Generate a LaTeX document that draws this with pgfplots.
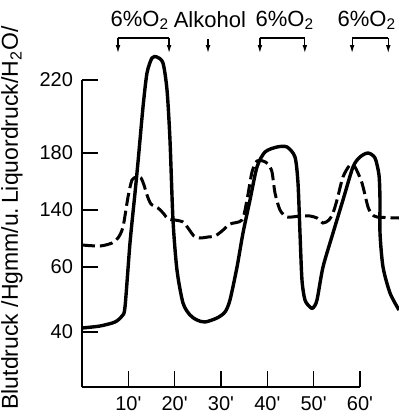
\documentclass[border=0pt]{standalone}
\usepackage{pgfplots}
\pgfplotsset{compat=1.18}
\usetikzlibrary{arrows.meta}
\usepackage{fontspec}
\setmainfont{Liberation Sans}
\begin{document}
\begin{tikzpicture}[arr/.style={line width=0.6pt,-{Latex[length=4pt,width=2.4pt]}}]
\useasboundingbox (-41pt,-16.5pt) rectangle (158.5pt,193.5pt);
\begin{axis}[
  scale only axis, width=139pt, height=153.5pt,
  xmin=0, xmax=60, ymin=0, ymax=307,
  axis x line=bottom, axis y line=left, axis line style={-, line width=0.8pt},
  clip=false,
  xtick={10,20,30,40,50,60},
  xticklabels={10\textquotesingle,20\textquotesingle,30\textquotesingle,40\textquotesingle,50\textquotesingle,60\textquotesingle},
  ytick={55,120,177,234,307},
  yticklabels={40,60,140,180,220},
  tick align=inside, major tick length=8pt,
  tick style={line width=0.7pt, black},
  tick label style={font=\fontsize{10}{12}\selectfont},
  xticklabel style={yshift=-1pt},
  yticklabel style={xshift=-1pt},
]
\addplot[black, line width=1.7pt, smooth, tension=0.45] coordinates {
(0,59) (3.89,61) (7.12,65) (8.63,71) (9.28,80) (10.36,144) (11.44,194) (12.09,225)
(13.17,280) (14.03,314) (15.11,329) (16.19,330) (17.48,324) (18.35,297) (18.99,247)
(19.64,167) (20.50,117) (21.80,84) (23.31,72) (24.82,67) (26.55,65) (29.14,69)
(30.87,75) (31.94,87) (33.46,120) (34.75,154) (36.26,187) (37.77,220) (39.50,235)
(42.09,240) (44.25,240) (45.97,230) (46.62,204) (47.05,154) (47.48,107) (48.13,87)
(49.21,80) (49.86,79) (50.72,87) (52.02,120) (54.18,154) (56.33,187) (58.49,220)
(60.00,230) (61.73,234) (63.24,229) (64.10,212) (64.32,187) (64.32,154) (64.97,120)
(66.48,94) (68.42,77)
};
\addplot[black, line width=1.5pt, smooth, tension=0.45, dash pattern=on 6.5pt off 2.5pt] coordinates {
(0,142) (3.89,141) (6.48,144) (7.77,149) (8.85,160) (9.93,190) (10.79,207) (11.87,210)
(12.73,209) (13.38,202) (14.03,192) (14.89,183) (16.40,179) (17.70,173) (18.56,168)
(20.07,167) (21.80,165) (22.88,159) (24.17,151) (25.47,149) (27.20,150) (28.71,151)
(30.22,156) (31.94,163) (34.53,167) (35.61,187) (36.69,215) (37.77,226) (39.07,226)
(40.15,223) (41.01,215) (41.66,194) (42.74,177) (44.25,170) (47.05,171) (49.21,171)
(50.72,169) (52.02,164) (53.31,167) (54.18,174) (55.04,187) (56.33,210) (57.84,222)
(58.92,220) (60.43,204) (61.73,180) (62.59,173) (63.67,170) (68.42,169)
};
% annotations
\node[font=\fontsize{11}{13}\selectfont] at (axis cs:12.5,367) {6\%O\textsubscript{2}};
\node[font=\fontsize{11}{13}\selectfont] at (axis cs:27.6,367) {Alkohol};
\node[font=\fontsize{11}{13}\selectfont] at (axis cs:43.8,367) {6\%O\textsubscript{2}};
\node[font=\fontsize{11}{13}\selectfont] at (axis cs:61.5,367) {6\%O\textsubscript{2}};
\draw[line width=0.6pt] (axis cs:7.77,349) -- (axis cs:18.8,349);
\draw[arr] (axis cs:7.77,349) -- (axis cs:7.77,334);
\draw[arr] (axis cs:18.8,349) -- (axis cs:18.8,334);
\draw[arr] (axis cs:27.2,348) -- (axis cs:27.2,334);
\draw[line width=0.6pt] (axis cs:38.4,349) -- (axis cs:48.1,349);
\draw[arr] (axis cs:38.4,349) -- (axis cs:38.4,334);
\draw[arr] (axis cs:48.1,349) -- (axis cs:48.1,334);
\draw[line width=0.6pt] (axis cs:58.3,349) -- (axis cs:66.1,349);
\draw[arr] (axis cs:58.3,349) -- (axis cs:58.3,334);
\draw[arr] (axis cs:66.1,349) -- (axis cs:66.1,334);
\node[rotate=90, font=\fontsize{11.5}{13}\selectfont] at (axis cs:-15.1,169) {Blutdruck /Hgmm/u.\,Liquordruck/H\textsubscript{2}O/};
\end{axis}
\end{tikzpicture}
\end{document}
